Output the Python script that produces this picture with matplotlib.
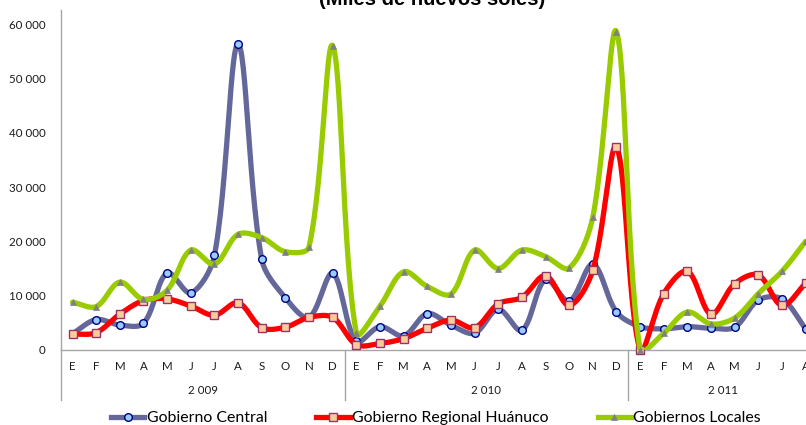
import numpy as np
import matplotlib
matplotlib.use("Agg")
import matplotlib.pyplot as plt
from matplotlib.lines import Line2D
from matplotlib.ticker import FuncFormatter, FixedLocator
import matplotlib.transforms as mtransforms

# ---------------- data ----------------
months = ["E", "F", "M", "A", "M", "J", "J", "A", "S", "O", "N", "D"]
years = ["2 009", "2 010", "2 011"]
month_labels = (months * 3)[:32]

central = [3000, 5600, 4600, 4900, 14200, 10500, 17400, 56300, 16700, 9600, 6000, 14100,
           1600, 4300, 2600, 6700, 4600, 3100, 7500, 3600, 13000, 9000, 15800, 7000,
           4300, 3900, 4300, 4000, 4200, 9200, 9400, 3900]
regional = [2900, 3200, 6600, 9100, 9400, 8100, 6400, 8700, 4100, 4200, 6000, 6000,
            1000, 1200, 2100, 4000, 5500, 4100, 8500, 9700, 13700, 8200, 14700, 37400,
            0, 10400, 14500, 6600, 12200, 13800, 8200, 12300]
locales = [8800, 8000, 12500, 9300, 11000, 18400, 15800, 21300, 20700, 18100, 19000, 56000,
           3100, 8100, 14400, 11700, 10300, 18400, 15000, 18400, 17200, 15100, 24500, 58600,
           0, 3100, 7000, 4800, 5900, 10400, 14500, 20000]
series_names = ["Gobierno Central", "Gobierno Regional Huánuco", "Gobiernos Locales"]
yticks = [0, 10000, 20000, 30000, 40000, 50000, 60000]

W, H = 806, 425
x0, xr = 60.7, 23.65
ypx = 326 / 60000.0


def smooth(x, y, n=30):
    # smoothed line (Bezier through the points), tangents scaled by
    # neighbouring segment lengths measured in screen space
    P = np.column_stack([np.asarray(x, float) * xr, np.asarray(y, float) * ypx])
    m = len(P)
    out = []
    t = np.linspace(0, 1, n)[:, None]
    ctrl_out = []
    ctrl_in = []
    for i in range(m):
        prev = P[max(i - 1, 0)]
        nxt = P[min(i + 1, m - 1)]
        T = nxt - prev
        dp = np.linalg.norm(P[i] - prev)
        dn = np.linalg.norm(nxt - P[i])
        tot = dp + dn if dp + dn > 0 else 1.0
        ctrl_out.append(P[i] + T * (dn / tot) / 3.0)
        ctrl_in.append(P[i] - T * (dp / tot) / 3.0)
    for i in range(m - 1):
        p1, p2 = P[i], P[i + 1]
        c1, c2 = ctrl_out[i], ctrl_in[i + 1]
        seg = ((1 - t) ** 3) * p1 + 3 * ((1 - t) ** 2) * t * c1 + 3 * (1 - t) * t ** 2 * c2 + t ** 3 * p2
        out.append(seg if i == 0 else seg[1:])
    s = np.vstack(out)
    return s[:, 0] / xr, s[:, 1] / ypx


fig = plt.figure(figsize=(W / 100, H / 100), dpi=100)
font = "Lato"

n = len(month_labels)
ax = fig.add_axes([x0 / W, (H - 350) / H, n * xr / W, 340 / H])
ax.set_xlim(-0.5, n - 0.5)
ax.set_ylim(0, 62600)

x = np.arange(n)
styles = [
    dict(color="#64679A", marker="o", mfc="#99CCFF", mec="#000080", ms=5.5, mew=1.0),
    dict(color="#FF0000", marker="s", mfc="#FFCC99", mec="#993366", ms=5.5, mew=1.0),
    dict(color="#99CC00", marker="^", mfc="#808080", mec="#808080", ms=4.0, mew=0.5),
]
handles = []
for k, (vals, st) in enumerate(zip([central, regional, locales], styles)):
    sx, sy = smooth(x, vals)
    ax.plot(sx, sy, color=st["color"], lw=3.8, solid_capstyle="round", zorder=2 + k)
    ax.plot(x, vals, ls="none", marker=st["marker"], mfc=st["mfc"], mec=st["mec"],
            ms=st["ms"], mew=st["mew"], zorder=2.5 + k, clip_on=False)
    handles.append(Line2D([], [], color=st["color"], lw=3.8, marker=st["marker"],
                          mfc=st["mfc"], mec=st["mec"], ms=st["ms"], mew=st["mew"]))

# axes styling
for s in ["top", "right"]:
    ax.spines[s].set_visible(False)
for s in ["left", "bottom"]:
    ax.spines[s].set_color("#A6A6A6")
    ax.spines[s].set_linewidth(1.0)
ax.yaxis.set_major_locator(FixedLocator(yticks))
ax.yaxis.set_major_formatter(FuncFormatter(lambda v, p: f"{v:,.0f}".replace(",", " ")))
ax.tick_params(axis="y", length=0, pad=11, labelsize=8.3, labelcolor="#1a1a1a")
for lab in ax.get_yticklabels():
    lab.set_fontfamily(font)
ax.set_xticks([])

trans = mtransforms.blended_transform_factory(ax.transData, ax.transAxes)
for i, m in enumerate(month_labels):
    ax.text(i, -16 / 340, m, transform=trans, ha="center", va="center",
            fontsize=8.3, family=font, color="#1a1a1a")
sep_bottom = -50 / 340
for b in [-0.5, 11.5, 23.5]:
    ax.plot([b, b], [0, sep_bottom], transform=trans, color="#A6A6A6", lw=1.0, clip_on=False)
for j, yl in enumerate(years):
    lo = -0.5 + 12 * j
    hi = min(lo + 12, n - 0.5)
    ax.text((lo + hi) / 2, -41 / 340, yl, transform=trans,
            ha="center", va="center", fontsize=8.3, family=font, color="#1a1a1a")

# title (partially cut at top)
fig.text(432 / W, 1 - 5 / H, "(Miles de nuevos soles)", ha="center", va="baseline",
         fontsize=14.5, fontweight="bold", family="Liberation Sans")

leg = fig.legend(handles, series_names, loc="center", bbox_to_anchor=(436 / W, 1 - 418 / H),
                 ncol=3, frameon=False, prop=dict(family=font, size=11.4),
                 handlelength=2.1, handletextpad=0.15, columnspacing=3.1, borderpad=0)

fig.savefig("out.png", dpi=100)
